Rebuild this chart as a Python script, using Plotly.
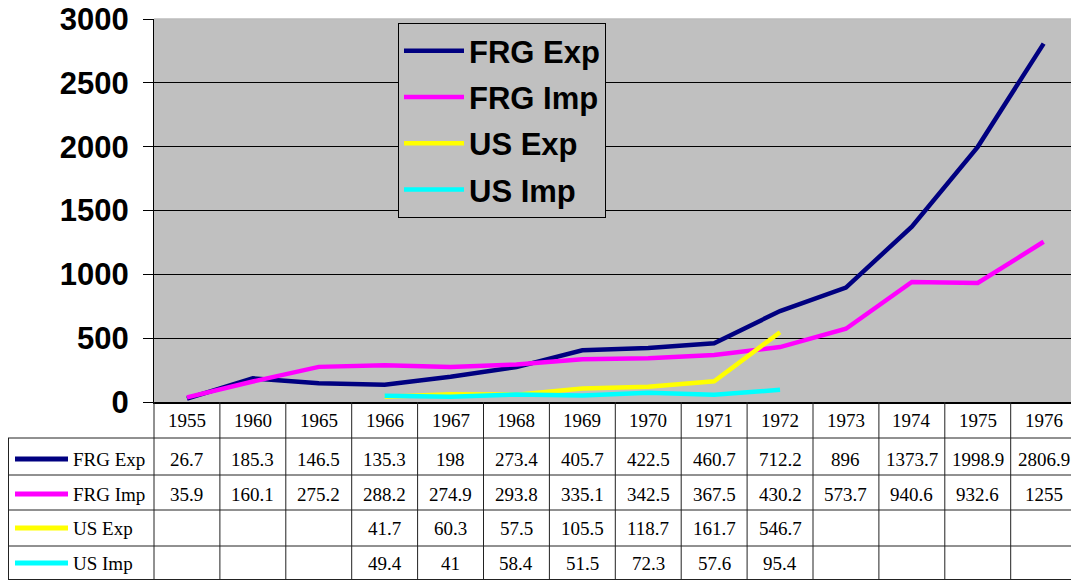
import plotly.graph_objects as go

years = ["1955", "1960", "1965", "1966", "1967", "1968", "1969", "1970",
         "1971", "1972", "1973", "1974", "1975", "1976"]
frg_exp = [26.7, 185.3, 146.5, 135.3, 198, 273.4, 405.7, 422.5, 460.7, 712.2,
           896, 1373.7, 1998.9, 2806.9]
frg_imp = [35.9, 160.1, 275.2, 288.2, 274.9, 293.8, 335.1, 342.5, 367.5, 430.2,
           573.7, 940.6, 932.6, 1255]
us_exp = [None, None, None, 41.7, 60.3, 57.5, 105.5, 118.7, 161.7, 546.7,
          None, None, None, None]
us_imp = [None, None, None, 49.4, 41, 58.4, 51.5, 72.3, 57.6, 95.4,
          None, None, None, None]
series_names = ["FRG Exp", "FRG Imp", "US Exp", "US Imp"]
series_values = [frg_exp, frg_imp, us_exp, us_imp]
series_colors = ["#000080", "#FF00FF", "#FFFF00", "#00FFFF"]
y_ticks = [0, 500, 1000, 1500, 2000, 2500, 3000]

W, H = 1071, 580
PL, PT, PB = 154, 19, 402        # plot area in screen pixels
L, T = PL, PT
B = H - PB
R = 0
PH = H - T - B
PW = W - L - R


def py(p):
    """screen pixel y -> paper y"""
    return (PB - p) / PH


def px(p):
    """screen pixel x -> paper x"""
    return (p - PL) / PW


fig = go.Figure()
for name, vals, col in zip(series_names, series_values, series_colors):
    fig.add_trace(go.Scatter(
        x=years, y=vals, name=name, mode="lines",
        line=dict(color=col, width=4.5), legendgroup=name,
        connectgaps=False,
    ))

serif = "Liberation Serif, Times New Roman, serif"
sans = "Liberation Sans, Arial, sans-serif"
shapes = []
annotations = []
line_col = "#222222"

# table horizontal lines
row_edges = [438, 475, 510, 546, 579.5]
for e in row_edges:
    shapes.append(dict(type="line", xref="paper", yref="paper",
                       x0=px(8), x1=1, y0=py(e), y1=py(e),
                       line=dict(color=line_col, width=1)))
# left vertical lines
shapes.append(dict(type="line", xref="paper", yref="paper",
                   x0=px(8.5), x1=px(8.5), y0=py(438), y1=py(580),
                   line=dict(color=line_col, width=1)))
shapes.append(dict(type="line", xref="paper", yref="paper",
                   x0=0, x1=0, y0=py(402), y1=py(580),
                   line=dict(color=line_col, width=1)))
# column separators
for i in range(1, len(years) + 1):
    shapes.append(dict(type="line", xref="x", yref="paper",
                       x0=i - 0.5, x1=i - 0.5, y0=py(402), y1=py(580),
                       line=dict(color=line_col, width=1)))
# top border of plot
shapes.append(dict(type="line", xref="paper", yref="paper",
                   x0=0, x1=1, y0=1, y1=1,
                   line=dict(color="#BDBDBD", width=1.5)))

txt_font = dict(family=serif, size=19, color="black")
# header row
hdr_c = 421
for i, yr in enumerate(years):
    annotations.append(dict(x=i, xref="x", y=py(hdr_c), yref="paper",
                            text=yr, showarrow=False, xanchor="center",
                            yanchor="middle", font=txt_font))
row_c = [459, 494, 528, 563]
for r, (name, vals, col) in enumerate(zip(series_names, series_values, series_colors)):
    yc = row_c[r]
    shapes.append(dict(type="line", xref="paper", yref="paper",
                       x0=px(15), x1=px(68), y0=py(yc), y1=py(yc),
                       line=dict(color=col, width=5)))
    annotations.append(dict(x=px(71), xref="paper", y=py(yc), yref="paper",
                            text=name, showarrow=False, xanchor="left",
                            yanchor="middle", font=txt_font))
    for i, v in enumerate(vals):
        if v is None:
            continue
        annotations.append(dict(x=i, xref="x", y=py(yc), yref="paper",
                                text=f"{v:g}", showarrow=False,
                                xanchor="center", yanchor="middle",
                                font=txt_font))

span = (W - PL) / 65.9

fig.update_layout(
    width=W, height=H,
    margin=dict(l=L, r=R, t=T, b=B, autoexpand=False),
    paper_bgcolor="white",
    plot_bgcolor="#C0C0C0",
    shapes=shapes,
    annotations=annotations,
    showlegend=True,
    legend=dict(
        x=px(398), y=py(23), xanchor="left", yanchor="top",
        bgcolor="#C0C0C0", bordercolor="black", borderwidth=1,
        font=dict(family=sans, size=31, color="black", weight="bold"),
        traceorder="grouped", tracegroupgap=3, itemwidth=60,
    ),
    xaxis=dict(
        type="category", categoryorder="array", categoryarray=years,
        range=[-0.5, -0.5 + span],
        showticklabels=False, showgrid=False, zeroline=False,
        showline=True, linecolor="black", linewidth=1.5, ticks="",
        fixedrange=True,
    ),
    yaxis=dict(
        range=[0, 3000], tickvals=y_ticks,
        ticktext=[str(t) for t in y_ticks],
        showgrid=True, gridcolor="black", gridwidth=1,
        zeroline=False, showline=True, linecolor="black", linewidth=1,
        ticks="outside", ticklen=10, tickcolor="black", tickwidth=1,
        tickfont=dict(family=sans, size=31, color="black", weight="bold"),
        ticklabelstandoff=8,
    ),
)

fig.write_html(
    "out.html",
    config={"displayModeBar": False},
    post_script="document.body.style.margin='0';"
                "document.body.style.overflow='hidden';",
)
